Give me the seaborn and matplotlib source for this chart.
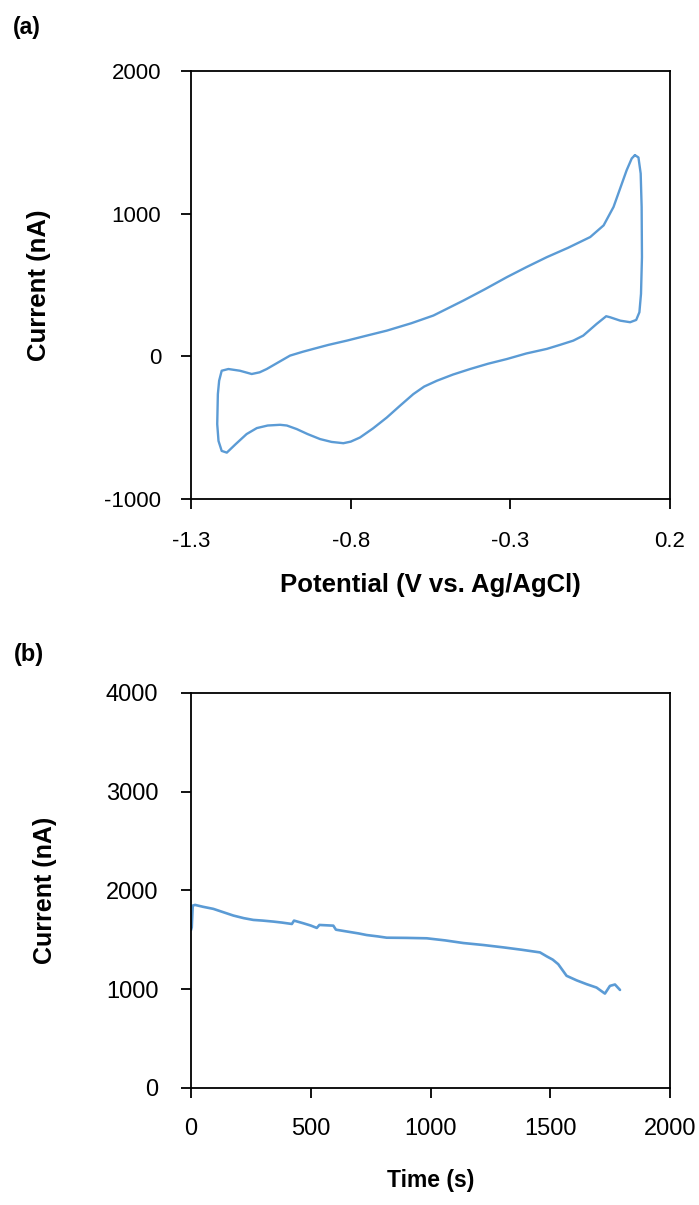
import numpy as np
import pandas as pd
import matplotlib
matplotlib.use("Agg")
import matplotlib.pyplot as plt
import seaborn as sns

# ---- data ----
# (a) cyclic voltammogram, traced as one closed loop
cv_potential = [0.090, 0.101, 0.108, 0.111, 0.112, 0.109, 0.104, 0.094, 0.075,
                0.044, 0.012, 0.000, -0.030, -0.072, -0.103, -0.145, -0.186,
                -0.250, -0.311, -0.370, -0.426, -0.480, -0.530, -0.570, -0.604,
                -0.645, -0.687, -0.730, -0.771, -0.800, -0.823, -0.860, -0.896,
                -0.935, -0.969, -1.000, -1.021, -1.060, -1.094, -1.126, -1.160,
                -1.188, -1.204, -1.214, -1.218, -1.216, -1.212, -1.204, -1.183,
                -1.147, -1.110, -1.085, -1.063, -1.025, -0.990, -0.950, -0.917,
                -0.870, -0.812, -0.750, -0.687, -0.610, -0.541, -0.447, -0.380,
                -0.311, -0.250, -0.186, -0.120, -0.050, -0.008, 0.023, 0.064,
                0.080, 0.090]
cv_current = [1410, 1394, 1281, 1047, 695, 438, 309, 255, 239,
              250, 274, 281, 227, 145, 110, 80, 52,
              20, -19, -52, -89, -128, -171, -212, -265,
              -345, -429, -505, -569, -598, -609, -600, -580,
              -545, -510, -485, -480, -485, -503, -545, -615,
              -675, -663, -593, -475, -265, -171, -101, -89,
              -101, -124, -112, -89, -40, 5, 32, 52,
              80, 110, 145, 180, 232, 286, 391, 470,
              555, 625, 695, 760, 836, 918, 1047, 1304,
              1387, 1410]

# (b) chronoamperogram
t_time = [0, 3, 7, 17, 50, 93, 135, 177, 220, 260, 300, 344, 380, 421, 430,
          469, 500, 525, 536, 594, 605, 650, 700, 733, 780, 817, 900, 984,
          1060, 1137, 1220, 1304, 1380, 1457, 1485, 1510, 1533, 1568, 1610,
          1652, 1693, 1728, 1749, 1770, 1791]
t_current = [1600, 1628, 1847, 1854, 1835, 1814, 1780, 1746, 1720, 1702, 1695,
             1685, 1675, 1661, 1695, 1668, 1645, 1621, 1651, 1644, 1603, 1585,
             1565, 1549, 1535, 1522, 1520, 1516, 1495, 1468, 1448, 1424, 1400,
             1373, 1333, 1300, 1254, 1136, 1090, 1051, 1017, 956, 1034, 1048, 993]

cv_df = pd.DataFrame({"Potential": cv_potential, "Current": cv_current})
t_df = pd.DataFrame({"Time": t_time, "Current": t_current})

sns.set_theme(style="white")
plt.rcParams["font.family"] = ["Liberation Sans", "DejaVu Sans"]
plt.rcParams["text.color"] = "black"
plt.rcParams["axes.labelcolor"] = "black"

line_color = "#5B9BD5"
fig = plt.figure(figsize=(6.99, 12.05), dpi=100)

# ---- (a) CV ----
ax1 = fig.add_axes([0.2733, 0.5859, 0.6853, 0.3552])
sns.lineplot(data=cv_df, x="Potential", y="Current", sort=False, estimator=None,
             color=line_color, linewidth=1.7, ax=ax1)
ax1.set_xlim(-1.3, 0.2)
ax1.set_ylim(-1000, 2000)
ax1.set_xticks([-1.3, -0.8, -0.3, 0.2])
ax1.set_xticklabels(["-1.3", "-0.8", "-0.3", "0.2"])
ax1.set_yticks([-1000, 0, 1000, 2000])
ax1.set_yticklabels(["-1000", "0", "1000", "2000"])
ax1.tick_params(labelsize=16)
ax1.tick_params(axis="y", pad=14)
ax1.tick_params(axis="x", pad=15.5)
ax1.set_xlabel("Potential (V vs. Ag/AgCl)", fontsize=18.5, fontweight="bold", labelpad=15.5)
ax1.set_ylabel("Current (nA)", fontsize=18.5, fontweight="bold", labelpad=38)

# ---- (b) current vs time ----
ax2 = fig.add_axes([0.2733, 0.0971, 0.6853, 0.3278])
sns.lineplot(data=t_df, x="Time", y="Current", sort=False, estimator=None,
             color=line_color, linewidth=1.9, ax=ax2)
ax2.set_xlim(0, 2000)
ax2.set_ylim(0, 4000)
ax2.set_xticks([0, 500, 1000, 1500, 2000])
ax2.set_yticks([0, 1000, 2000, 3000, 4000])
ax2.tick_params(labelsize=17)
ax2.tick_params(axis="y", pad=16)
ax2.tick_params(axis="x", pad=14)
ax2.set_xlabel("Time (s)", fontsize=16.5, fontweight="bold", labelpad=21)
ax2.set_ylabel("Current (nA)", fontsize=18, fontweight="bold", labelpad=35)

for ax in (ax1, ax2):
    for side in ax.spines.values():
        side.set_visible(True)
        side.set_color("black")
        side.set_linewidth(1.3)
    ax.tick_params(direction="out", length=7.5, width=1.3, colors="black",
                   bottom=True, left=True)
    ax.grid(False)

fig.text(0.018, 0.977, "(a)", fontsize=16.5, fontweight="bold", va="center")
fig.text(0.020, 0.457, "(b)", fontsize=17, fontweight="bold", va="center")

fig.savefig("out.png", dpi=100)
